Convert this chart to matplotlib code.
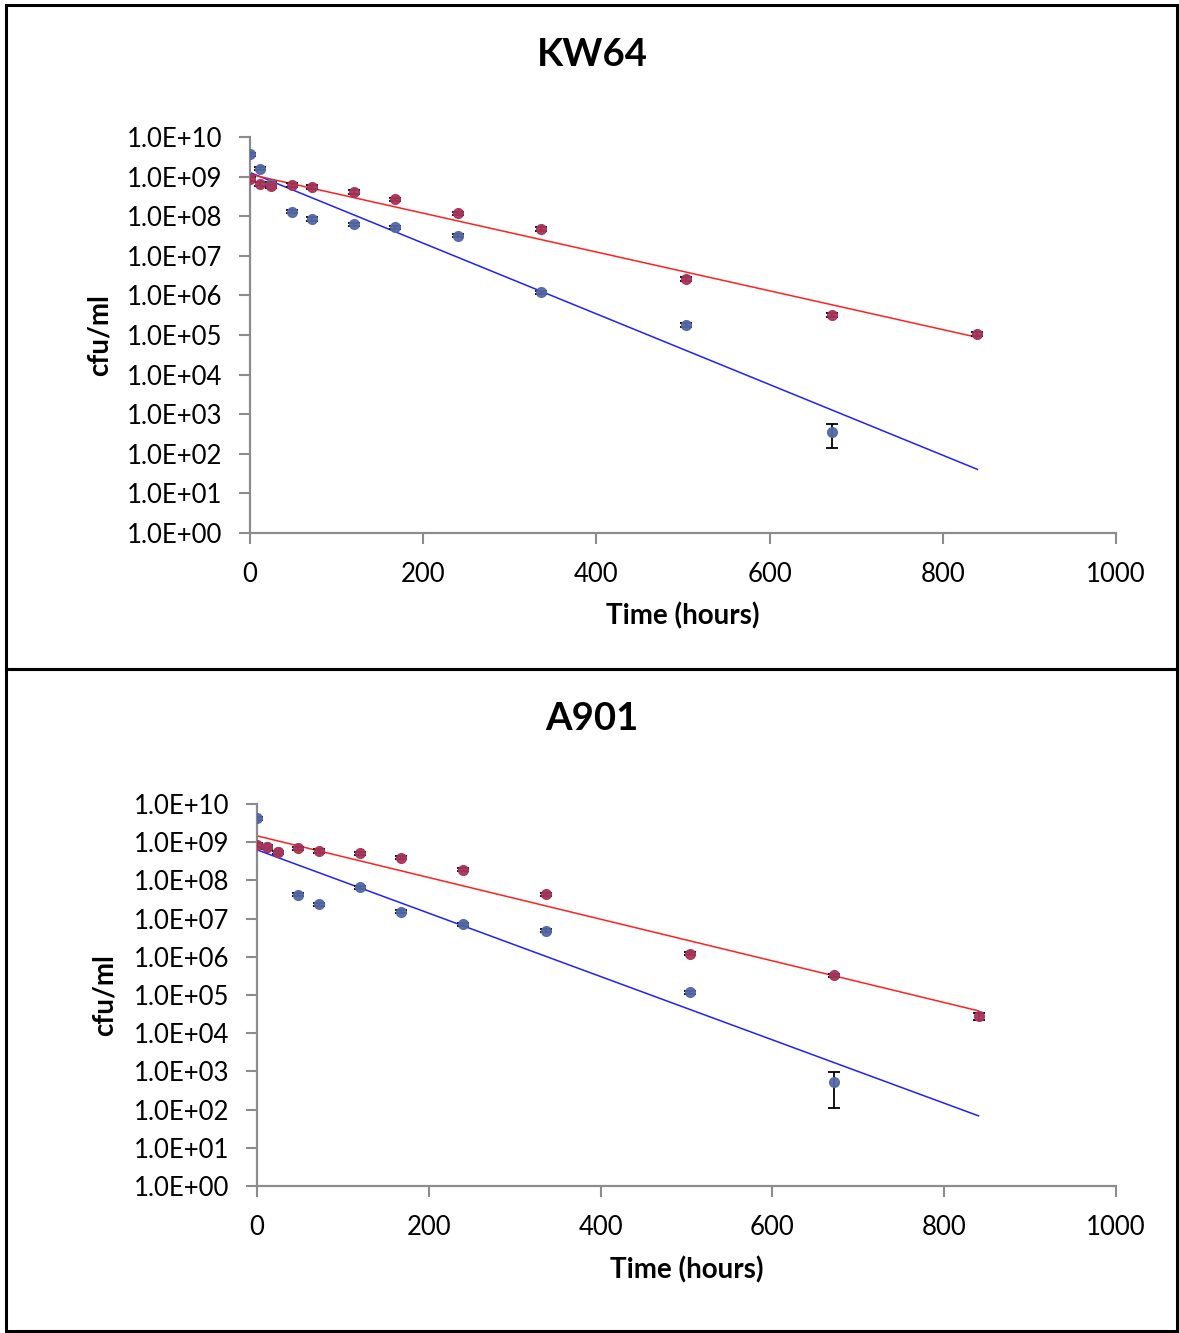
import numpy as np
import matplotlib
matplotlib.use("Agg")
import matplotlib.pyplot as plt
from matplotlib.ticker import FixedLocator, FuncFormatter
from matplotlib.patches import Rectangle

plt.rcParams['font.family'] = ['Lato', 'DejaVu Sans']

# ---- data ----
titles = ["KW64", "A901"]

kw64_blue_t = [0, 12, 24, 48, 72, 120, 168, 240, 336, 504, 672]
kw64_blue_v = [3.7e9, 1.6e9, 6.5e8, 1.3e8, 8.5e7, 6.3e7, 5.3e7, 3.2e7, 1.2e6, 1.8e5, 3.5e2]
kw64_blue_e = [3e8, 1.5e8, 6e7, 1.2e7, 8e6, 6e6, 5e6, 3e6, 1.1e5, 1.7e4, 2.1e2]

kw64_red_t = [0, 12, 24, 48, 72, 120, 168, 240, 336, 504, 672, 840]
kw64_red_v = [8.7e8, 6.5e8, 5.8e8, 6.1e8, 5.5e8, 4.1e8, 2.7e8, 1.2e8, 4.8e7, 2.6e6, 3.2e5, 1.07e5]
kw64_red_e = [8e7, 6e7, 5e7, 6e7, 5e7, 4e7, 2.5e7, 1.1e7, 4.5e6, 2.5e5, 3e4, 1.2e4]

a901_blue_t = [0, 12, 24, 48, 72, 120, 168, 240, 336, 504, 672]
a901_blue_v = [4.3e9, 7.4e8, 5.5e8, 4.2e7, 2.4e7, 6.7e7, 1.5e7, 7.2e6, 4.8e6, 1.2e5, 5.3e2]
a901_blue_e = [4e8, 7e7, 5e7, 4e6, 2.3e6, 6e6, 1.4e6, 7e5, 4.5e5, 1.1e4, 4.2e2]

a901_red_t = [0, 12, 24, 48, 72, 120, 168, 240, 336, 504, 672, 840]
a901_red_v = [8.5e8, 7.5e8, 5.5e8, 7.0e8, 5.9e8, 5.2e8, 3.9e8, 1.9e8, 4.4e7, 1.2e6, 3.3e5, 2.8e4]
a901_red_e = [8e7, 7e7, 5e7, 6.5e7, 5.5e7, 5e7, 3.6e7, 1.8e7, 4e6, 1.1e5, 3e4, 6e3]

x_ticks = [0, 200, 400, 600, 800, 1000]
y_ticks = [1e0, 1e1, 1e2, 1e3, 1e4, 1e5, 1e6, 1e7, 1e8, 1e9, 1e10]
fit_end = 840

panels = [
    (kw64_blue_t, kw64_blue_v, kw64_blue_e, kw64_red_t, kw64_red_v, kw64_red_e),
    (a901_blue_t, a901_blue_v, a901_blue_e, a901_red_t, a901_red_v, a901_red_e),
]

W, H = 1179, 1333
fig = plt.figure(figsize=(W / 100, H / 100), dpi=100)

def fx(px):
    return px / W

def fy(py):
    return 1 - py / H

# axes rectangles in pixels: left, top, right, bottom
ax_px = [(250, 137, 1116, 533), (257, 804, 1116, 1186)]
title_y = [55, 719]
xlabel_y = [616, 1270]
ylabel_x = [100, 105]

blue_mk = "#5468A6"
red_mk = "#A8345A"
gray = "#8C8C8C"

def sci(v, pos):
    e = int(round(np.log10(v)))
    return "1.0E+%02d" % e

for i, (bt, bv, be, rt, rv, re_) in enumerate(panels):
    l, t, r, b = ax_px[i]
    ax = fig.add_axes([fx(l), fy(b), fx(r - l), (b - t) / H])
    ax.set_yscale("log")
    ax.set_xlim(0, 1000)
    ax.set_ylim(1e0, 1e10)

    for tt, vv, ee, lc, mc in [(bt, bv, be, "#2020FF", blue_mk), (rt, rv, re_, "#FF2020", red_mk)]:
        tt = np.array(tt, float)
        vv = np.array(vv, float)
        k, c = np.polyfit(tt, np.log10(vv), 1)
        xl = np.array([0, fit_end], float)
        ax.plot(xl, 10 ** (c + k * xl), color=lc, lw=1.1, zorder=2)
        ax.errorbar(tt, vv, yerr=ee, fmt="none", ecolor="black", elinewidth=1.3,
                    capsize=4.5, capthick=1.3, zorder=3)
        ax.plot(tt, vv, "o", color=mc, ms=7, mec=mc, alpha=0.95, zorder=4)

    for s in ["top", "right"]:
        ax.spines[s].set_visible(False)
    for s in ["left", "bottom"]:
        ax.spines[s].set_color(gray)
        ax.spines[s].set_linewidth(1.6)
    ax.xaxis.set_major_locator(FixedLocator(x_ticks))
    ax.yaxis.set_major_locator(FixedLocator(y_ticks))
    ax.yaxis.set_minor_locator(FixedLocator([]))
    ax.yaxis.set_major_formatter(FuncFormatter(sci))
    ax.tick_params(axis="both", direction="out", length=8, width=1.5, color=gray,
                   labelsize=18.5, labelcolor="black")
    ax.tick_params(axis="x", pad=13)
    ax.tick_params(axis="y", pad=12)
    ax.patch.set_visible(False)

    fig.text(fx(592), fy(title_y[i]), titles[i], ha="center", va="center",
             fontsize=27.5, fontweight="bold")
    fig.text(fx((l + r) / 2), fy(xlabel_y[i]), "Time (hours)", ha="center", va="center",
             fontsize=20, fontweight="bold")
    fig.text(fx(ylabel_x[i]), fy((t + b) / 2), "cfu/ml", ha="center", va="center",
             rotation=90, fontsize=20, fontweight="bold")

# panel borders
for (x0, y0, x1, y1) in [(6, 5, 1177, 669), (6, 669, 1177, 1331)]:
    fig.patches.append(Rectangle((fx(x0), fy(y1)), fx(x1 - x0), (y1 - y0) / H,
                                 transform=fig.transFigure, fill=False,
                                 edgecolor="black", linewidth=2.2))

fig.savefig("out.png", dpi=100)
